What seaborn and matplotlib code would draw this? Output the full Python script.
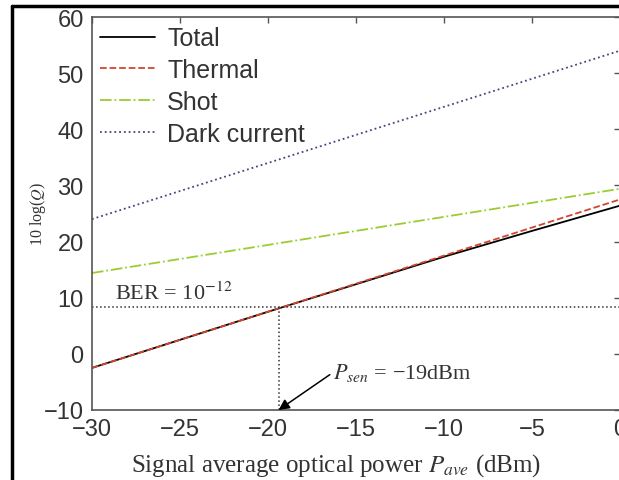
import matplotlib
matplotlib.use("Agg")
import matplotlib.pyplot as plt
import seaborn as sns
import pandas as pd
from matplotlib.lines import Line2D

sns.set_theme(style="white")
plt.rcParams["font.family"] = ["Liberation Sans", "DejaVu Sans"]
plt.rcParams["mathtext.fontset"] = "stix"

# values
power_dbm = [-30, -25, -20, -15, -10, -5, 0]
total = [-2.5, 2.5, 7.5, 12.4, 17.3, 21.9, 26.4]
thermal = [-2.5, 2.5, 7.5, 12.5, 17.5, 22.5, 27.5]
shot = [14.4, 16.9, 19.4, 21.9, 24.4, 26.9, 29.4]
dark = [24.0, 29.0, 34.0, 39.0, 44.0, 49.0, 54.0]
ber_q_db = 8.3
p_sen = -19.4

df = pd.DataFrame({"P": power_dbm, "Total": total, "Thermal": thermal,
                   "Shot": shot, "Dark current": dark})

fig = plt.figure(figsize=(6.19, 4.81), dpi=100)
ax = fig.add_axes([92 / 619, 1 - 411 / 481, 528 / 619, 393 / 481])

styles = {
    "Total": ("black", "-"),
    "Thermal": ("#d2452f", "--"),
    "Shot": ("#9acd32", "-."),
    "Dark current": ("#45457f", ":"),
}
for name, (col, ls) in styles.items():
    sns.lineplot(data=df, x="P", y=name, ax=ax, color=col, linestyle=ls,
                 lw=1.3, label=name)

# BER threshold and sensitivity marker
ax.axhline(ber_q_db, color="#333333", ls=":", lw=1.1)
ax.plot([p_sen, p_sen], [-10, ber_q_db], color="#333333", ls=":", lw=1.1)
ax.text(-28.7, 8.9, r"BER = 10$^{-12}$", family="Liberation Serif",
        fontsize=16, color="#333333", va="bottom")
ax.annotate(r"$P_{sen}$ = −19dBm", xy=(p_sen, -10), xytext=(-16.3, -3.3),
            family="Liberation Serif", fontsize=16, color="#333333",
            ha="left", va="center",
            arrowprops=dict(arrowstyle="-|>", color="black", lw=1.1,
                            mutation_scale=16, shrinkA=0, shrinkB=0,
                            relpos=(0, 0.5)))

ax.set_xlim(-30, 0)
ax.set_ylim(-10, 60)
ax.set_xticks(range(-30, 1, 5))
ax.set_yticks(range(-10, 61, 10))
ax.tick_params(direction="in", length=4, width=1, colors="#555555",
               labelcolor="#333333", labelsize=17, top=True, right=True,
               pad=6)
for s in ax.spines.values():
    s.set_color("#555555")
    s.set_linewidth(1.2)

ax.set_xlabel(r"Signal average optical power $P_{ave}$ (dBm)",
              family="Liberation Serif", fontsize=18, color="#333333")
ax.xaxis.set_label_coords(0.462, -0.105)
ax.set_ylabel(r"10 log($Q$)", family="Liberation Serif", fontsize=11.5,
              color="#333333", labelpad=-3)

ax.legend(loc="upper left", bbox_to_anchor=(-0.009, 1.008), frameon=False,
          fontsize=18, handlelength=2.2, labelspacing=0.31,
          handletextpad=0.5, borderaxespad=0.1, labelcolor="#333333")

# black frame of the screenshot
fig.add_artist(Line2D([11.5 / 619, 11.5 / 619], [0, 1 - 6.5 / 481],
                      color="black", lw=2.5, transform=fig.transFigure))
fig.add_artist(Line2D([11.5 / 619, 1], [1 - 6.5 / 481, 1 - 6.5 / 481],
                      color="black", lw=2.5, transform=fig.transFigure))

fig.savefig("out.png", dpi=100)
